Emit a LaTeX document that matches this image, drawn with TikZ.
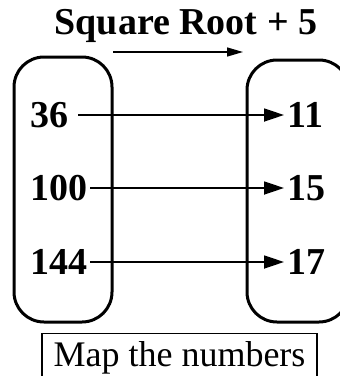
\documentclass[tikz,border=0pt]{standalone}
\usepackage{fontspec}
\setmainfont{Liberation Serif}
\usetikzlibrary{positioning,arrows.meta}

\begin{document}
\begin{tikzpicture}[
  x=1pt, y=-1pt,
  oval/.style={draw, line width=3pt, rounded corners=30pt, inner sep=0pt},
  num/.style={font=\fontsize{38}{40}\selectfont\bfseries, inner sep=3pt},
  maparrow/.style={-{Triangle[length=20pt,width=13pt]}, line width=1.8pt},
  >=Stealth
]
  \useasboundingbox (0,0) rectangle (340,376);

  % Title and direction arrow
  \node[font=\fontsize{38}{40}\selectfont\bfseries] (title) at (186,26)
    {Square Root + 5};
  \coordinate (dirstart) at (113,52);
  \coordinate (dirend) at (243,52);
  \draw[-{Triangle[length=16pt,width=9pt]}, line width=1.4pt] (dirstart) -- (dirend);

  % Sets
  \node[oval, minimum width=98pt, minimum height=265pt] (domain) at (63,189.5) {};
  \node[oval, minimum width=102pt, minimum height=262pt] (range) at (298,191) {};

  % Inputs
  \node[num, anchor=west] (in36) at (27,115) {36};
  \node[num, anchor=west] (in100) at (27,188) {100};
  \node[num, anchor=west] (in144) at (27,262) {144};

  % Outputs
  \node[num, anchor=west] (out11) at (284,115) {11};
  \node[num, anchor=west] (out15) at (284,188) {15};
  \node[num, anchor=west] (out17) at (284,262) {17};

  % Arrows
  \draw[maparrow, shorten <=7pt] (in36) -- (out11);
  \draw[maparrow] (in100) -- (out15);
  \draw[maparrow] (in144) -- (out17);

  % Caption
  \node[draw, line width=1.2pt, font=\fontsize{36}{38}\selectfont,
        minimum width=275pt, minimum height=48pt, anchor=north, text depth=8pt]
    (caption) at (179.5,333) {Map the numbers};
\end{tikzpicture}
\end{document}
